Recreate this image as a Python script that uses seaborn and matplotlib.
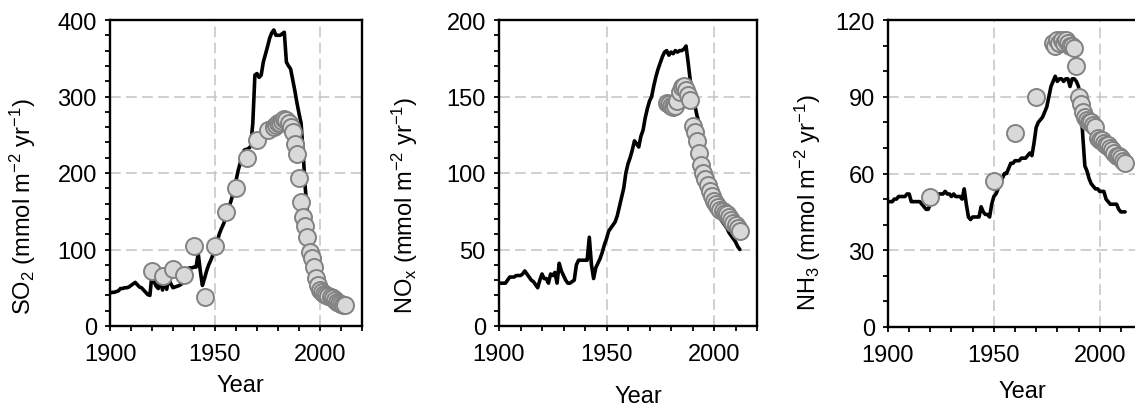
import numpy as np
import pandas as pd
import matplotlib
matplotlib.use("Agg")
import matplotlib.pyplot as plt
from matplotlib.ticker import MultipleLocator
import seaborn as sns

# ---------------- data ----------------
line_years = list(range(1900, 2013))

so2_line = [43, 44, 44, 45, 46, 49, 49, 50, 50, 51,
            53, 55, 57, 54, 51, 50, 47, 44, 41, 40,
            68, 58, 52, 49, 62, 47, 60, 48, 62, 55,
            50, 51, 52, 53, 55, 56, 58, 75, 76, 76,
            77, 77, 95, 72, 53, 62, 72, 80, 86, 93,
            100, 110, 120, 127, 133, 140, 150, 158, 167, 178,
            190, 203, 213, 224, 230, 231, 232, 235, 265, 328,
            330, 325, 328, 345, 355, 365, 376, 383, 387, 380,
            380, 380, 382, 384, 345, 340, 336, 322, 308, 292,
            278, 265, 225, 180, 148, 120, 100, 82, 68, 58,
            50, 46, 44, 42, 40, 38, 36, 34, 32, 30,
            28, 27, 25]

nox_line = [28, 28, 28, 28, 30, 32, 32, 32, 33, 33,
            33, 34, 36, 34, 32, 30, 29, 27, 25, 30,
            34, 31, 31, 28, 34, 33, 35, 28, 41, 36,
            33, 30, 28, 28, 29, 30, 40, 43, 43, 43,
            43, 43, 58, 40, 31, 38, 41, 44, 48, 53,
            57, 62, 64, 66, 68, 72, 78, 84, 90, 100,
            106, 110, 115, 121, 119, 117, 124, 128, 136, 142,
            147, 150, 157, 163, 168, 172, 176, 179, 180, 177,
            179, 178, 180, 179, 180, 180, 181, 183, 172, 160,
            152, 145, 138, 133, 125, 115, 105, 98, 90, 84,
            77, 74, 72, 70, 68, 66, 64, 61, 59, 57,
            55, 52, 50]

nh3_line = [49, 49, 49, 50, 50, 51, 51, 51, 51, 52,
            52, 49, 49, 49, 49, 49, 48, 47, 46, 46,
            48, 50, 51, 52, 52, 52, 52, 53, 52, 52,
            51, 52, 51, 51, 51, 50, 54, 48, 43, 42,
            43, 43, 43, 43, 47, 45, 44, 44, 43, 48,
            51, 52, 54, 56, 58, 60, 60, 62, 64, 64,
            65, 65, 65, 66, 66, 66, 67, 68, 67, 72,
            78, 80, 81, 82, 84, 86, 90, 94, 96, 98,
            96, 97, 97, 96, 97, 97, 94, 97, 97, 96,
            94, 88, 75, 63, 61, 58, 56, 55, 54, 54,
            53, 53, 53, 50, 49, 48, 48, 48, 48, 46,
            45, 45, 45]

so2_pt_years = [1920, 1925, 1930, 1935, 1940, 1945, 1950, 1955, 1960, 1965, 1970, 1975] + list(range(1978, 2013))
so2_pts = [72, 65, 74, 67, 104, 38, 104, 149, 180, 220, 243, 256,
           260, 263, 265, 266, 268, 270, 269, 265, 260, 254,
           238, 225, 194, 162, 142, 131, 116, 97, 89, 77,
           63, 53, 47, 44, 42, 40, 39, 38, 36, 34,
           32, 30, 29, 28, 27]

nox_pt_years = list(range(1978, 2013))
nox_pts = [146, 145, 144, 143, 144, 147, 153, 156, 157, 154,
           151, 148, 131, 127, 121, 113, 105, 100, 96, 92,
           88, 85, 82, 80, 78, 76, 75, 74, 73, 71,
           69, 67, 66, 64, 62]

nh3_pt_years = [1920, 1950, 1960, 1970] + list(range(1978, 2013))
nh3_pts = [51, 57, 76, 90,
           111, 110, 112, 111, 112, 111, 112, 111, 110, 110,
           109, 102, 90, 87, 84, 82, 81, 80, 80, 79,
           78, 74, 73, 73, 72, 71, 71, 70, 69, 68,
           67, 67, 66, 65, 64]

ylabels = [r"SO$_2$ (mmol m$^{-2}$ yr$^{-1}$)",
           r"NO$_\mathrm{x}$ (mmol m$^{-2}$ yr$^{-1}$)",
           r"NH$_3$ (mmol m$^{-2}$ yr$^{-1}$)"]
ylims = [(0, 400), (0, 200), (0, 120)]
ymajor = [100, 50, 30]
yminor = [20, 10, 10]
xlabel_text = "Year"

# ---------------- style ----------------
sns.set_style("white")
plt.rcParams['font.family'] = ['Liberation Sans', 'DejaVu Sans']
plt.rcParams['mathtext.fontset'] = 'custom'
plt.rcParams['mathtext.rm'] = 'Liberation Sans'
plt.rcParams['mathtext.it'] = 'Liberation Sans:italic'
plt.rcParams['mathtext.default'] = 'regular'
plt.rcParams['text.color'] = 'black'
plt.rcParams['axes.labelcolor'] = 'black'
plt.rcParams['xtick.color'] = 'black'
plt.rcParams['ytick.color'] = 'black'

FS = 17
W, H = 1135, 406
fig = plt.figure(figsize=(W / 100, H / 100), dpi=100)

# pixel boxes: left, top, right, bottom
boxes = [(110, 21, 362, 327), (499, 21, 757, 327), (888, 21, 1142, 328)]
ylab_pos = [(-0.287, 0.392), (-0.307, 0.399), (-0.256, 0.41)]
xlab_pos = [(0.518, -0.158), (0.541, -0.192), (0.531, -0.172)]

lines = [so2_line, nox_line, nh3_line]
pts_x = [so2_pt_years, nox_pt_years, nh3_pt_years]
pts_y = [so2_pts, nox_pts, nh3_pts]

for i in range(3):
    l, t, r, b = boxes[i]
    ax = fig.add_axes([l / W, (H - b) / H, (r - l) / W, (b - t) / H])
    ldf = pd.DataFrame({"Year": line_years, "v": lines[i]})
    pdf = pd.DataFrame({"Year": pts_x[i], "v": pts_y[i]})
    sns.lineplot(data=ldf, x="Year", y="v", ax=ax, color="black", lw=2.6, zorder=3)
    sns.scatterplot(data=pdf, x="Year", y="v", ax=ax, s=150, color="#d9d9d9",
                    edgecolor="#828282", linewidth=1.4, zorder=4)
    ax.set_xlim(1900, 2020)
    ax.set_ylim(*ylims[i])
    ax.xaxis.set_major_locator(MultipleLocator(50))
    ax.xaxis.set_minor_locator(MultipleLocator(10))
    ax.yaxis.set_major_locator(MultipleLocator(ymajor[i]))
    ax.yaxis.set_minor_locator(MultipleLocator(yminor[i]))
    ax.grid(True, which="major", color="#c3c3c3", lw=1.1, ls=(0, (7, 3.5)))
    ax.set_axisbelow(True)
    for s in ax.spines.values():
        s.set_color("black")
        s.set_linewidth(1.7)
        s.set_zorder(5)
    ax.tick_params(which="both", direction="out", length=3.5, width=1.3, color="black",
                   labelsize=FS, left=True, bottom=True, labelcolor="black")
    ax.tick_params(axis="x", which="major", pad=9)
    ax.tick_params(axis="y", which="major", pad=6)
    ax.set_xlabel(xlabel_text, fontsize=FS)
    ax.set_ylabel(ylabels[i], fontsize=FS)
    ax.xaxis.set_label_coords(*xlab_pos[i])
    ax.yaxis.set_label_coords(*ylab_pos[i])

fig.savefig("out.png", dpi=100)
